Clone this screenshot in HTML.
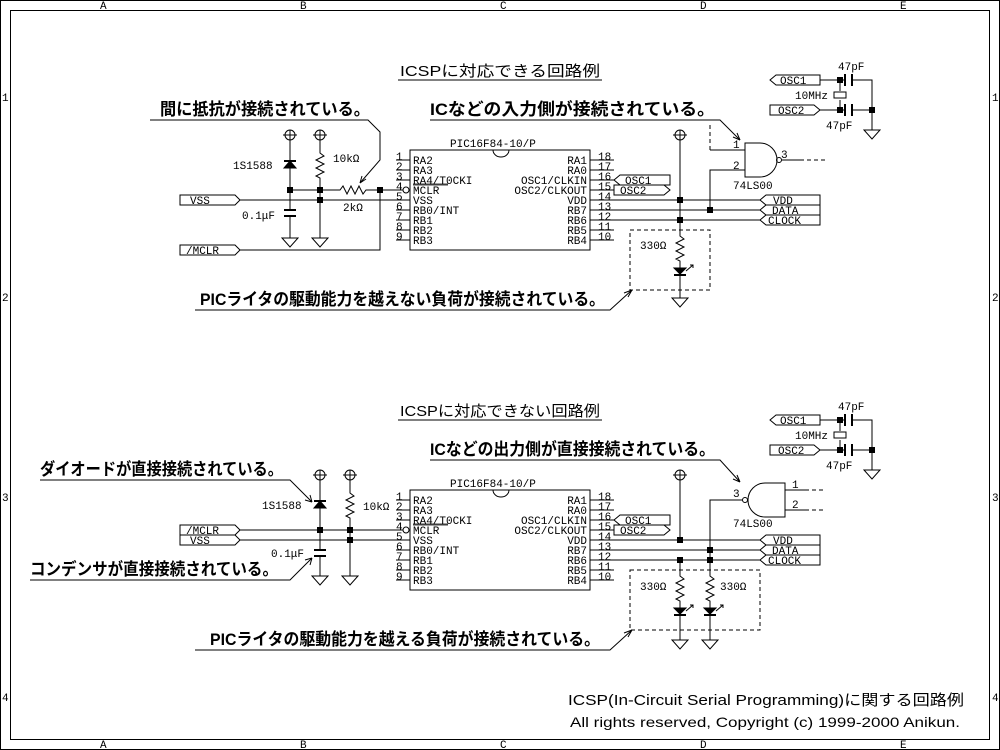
<!DOCTYPE html>
<html><head><meta charset="utf-8"><style>
body{margin:0;background:#fff}
svg{display:block}
.m{font-family:"Liberation Mono","DejaVu Sans Mono",monospace;font-size:11px;fill:#000}
.j{font-family:"Liberation Sans","Noto Sans CJK JP",sans-serif;font-size:17px;font-weight:bold;fill:#000}
.t{font-family:"Liberation Sans","Noto Sans CJK JP",sans-serif;font-size:15px;fill:#000}
</style></head><body>
<svg width="1000" height="750" viewBox="0 0 1000 750" xmlns="http://www.w3.org/2000/svg" fill="none" stroke="#000" stroke-width="1">
<defs>
<g id="pwr"><circle cx="0" cy="0" r="5"/><line x1="-7" y1="0" x2="7" y2="0"/><line x1="0" y1="-5" x2="0" y2="5"/></g>
<g id="gnd"><line x1="0" y1="0" x2="0" y2="8"/><path d="M-8 8 H8 L0 17 Z"/></g>
<g id="resv"><path d="M0 0 L0 3 L4 6 L-4 10 L4 14 L-4 18 L4 22 L-4 26 L0 28 L0 30"/></g>
<g id="dot"><rect x="-3" y="-3" width="6" height="6" fill="#000" stroke="none"/></g>
<g id="chip">
<rect x="410" y="150" width="180" height="100"/>
<path d="M493 150 a8 7 0 0 0 16 0"/>
<path d="M396 160H410M396 170H410M396 180H410M396 200H410M396 210H410M396 220H410M396 230H410M396 240H410"/>
<path d="M396 190H403"/><circle cx="406" cy="190" r="3"/>
<path d="M590 160H614M590 170H614M590 180H614M590 190H614M590 200H614M590 210H614M590 220H614M590 230H614M590 240H614"/>
<path d="M413 184H448M413 185H448" stroke-width="0.8"/>
<path d="M614 180L620 175H670V185H620Z"/>
<path d="M614 185V195H664L670 190L664 185Z"/>
</g>
<g id="osc">
<path d="M770 80L776 75H820V85H776Z"/>
<path d="M770 105V115H814L820 110L814 105Z"/>
<path d="M820 80H845M852 80H872V130M820 110H845M852 110H872"/>
<path d="M845 74V86M852 74V86M845 104V116M852 104V116" stroke-width="2"/>
<path d="M840 80V91M840 100V110"/><rect x="834" y="92" width="12" height="6"/>
<use href="#dot" x="840" y="80"/><use href="#dot" x="840" y="110"/><use href="#dot" x="872" y="110"/>
<use href="#gnd" x="872" y="122"/>
</g>
<g id="led"><path d="M-6 0H6L0 6Z" fill="#000"/><path d="M-6 7H6" stroke-width="2"/><path d="M6 3L13 -3M10 -3H13V0"/></g>
</defs>

<rect x="0.5" y="0.5" width="999" height="749"/>
<rect x="10.5" y="10.5" width="979" height="729"/>
<g class="m" stroke="none" font-size="10">
<text x="100" y="9">A</text><text x="300" y="9">B</text><text x="500" y="9">C</text><text x="700" y="9">D</text><text x="900" y="9">E</text>
<text x="100" y="748">A</text><text x="300" y="748">B</text><text x="500" y="748">C</text><text x="700" y="748">D</text><text x="900" y="748">E</text>
<text x="2" y="101">1</text><text x="2" y="301">2</text><text x="2" y="501">3</text><text x="2" y="701">4</text>
<text x="992" y="101">1</text><text x="992" y="301">2</text><text x="992" y="501">3</text><text x="992" y="701">4</text>
</g>

<use href="#chip"/><use href="#chip" y="340"/>
<use href="#osc"/><use href="#osc" y="340"/>

<g class="m" stroke="none">
<text x="450" y="147">PIC16F84-10/P</text>
<text x="413" y="164">RA2</text><text x="413" y="174">RA3</text><text x="413" y="184">RA4/T0CKI</text><text x="413" y="194">MCLR</text><text x="413" y="204">VSS</text><text x="413" y="214">RB0/INT</text><text x="413" y="224">RB1</text><text x="413" y="234">RB2</text><text x="413" y="244">RB3</text>
<g text-anchor="end"><text x="587" y="164">RA1</text><text x="587" y="174">RA0</text><text x="587" y="184">OSC1/CLKIN</text><text x="587" y="194">OSC2/CLKOUT</text><text x="587" y="204">VDD</text><text x="587" y="214">RB7</text><text x="587" y="224">RB6</text><text x="587" y="234">RB5</text><text x="587" y="244">RB4</text></g>
<text x="396" y="160">1</text><text x="396" y="170">2</text><text x="396" y="180">3</text><text x="396" y="190">4</text><text x="396" y="200">5</text><text x="396" y="210">6</text><text x="396" y="220">7</text><text x="396" y="230">8</text><text x="396" y="240">9</text>
<text x="598" y="160">18</text><text x="598" y="170">17</text><text x="598" y="180">16</text><text x="598" y="190">15</text><text x="598" y="200">14</text><text x="598" y="210">13</text><text x="598" y="220">12</text><text x="598" y="230">11</text><text x="598" y="240">10</text>
<text x="625" y="184">OSC1</text><text x="620" y="194">OSC2</text>
<g transform="translate(0,340)">
<text x="450" y="147">PIC16F84-10/P</text>
<text x="413" y="164">RA2</text><text x="413" y="174">RA3</text><text x="413" y="184">RA4/T0CKI</text><text x="413" y="194">MCLR</text><text x="413" y="204">VSS</text><text x="413" y="214">RB0/INT</text><text x="413" y="224">RB1</text><text x="413" y="234">RB2</text><text x="413" y="244">RB3</text>
<g text-anchor="end"><text x="587" y="164">RA1</text><text x="587" y="174">RA0</text><text x="587" y="184">OSC1/CLKIN</text><text x="587" y="194">OSC2/CLKOUT</text><text x="587" y="204">VDD</text><text x="587" y="214">RB7</text><text x="587" y="224">RB6</text><text x="587" y="234">RB5</text><text x="587" y="244">RB4</text></g>
<text x="396" y="160">1</text><text x="396" y="170">2</text><text x="396" y="180">3</text><text x="396" y="190">4</text><text x="396" y="200">5</text><text x="396" y="210">6</text><text x="396" y="220">7</text><text x="396" y="230">8</text><text x="396" y="240">9</text>
<text x="598" y="160">18</text><text x="598" y="170">17</text><text x="598" y="180">16</text><text x="598" y="190">15</text><text x="598" y="200">14</text><text x="598" y="210">13</text><text x="598" y="220">12</text><text x="598" y="230">11</text><text x="598" y="240">10</text>
<text x="625" y="184">OSC1</text><text x="620" y="194">OSC2</text>
</g>
<text x="780" y="84">OSC1</text><text x="778" y="114">OSC2</text><text x="838" y="70">47pF</text><text x="795" y="99">10MHz</text><text x="826" y="129">47pF</text>
<text x="780" y="424">OSC1</text><text x="778" y="454">OSC2</text><text x="838" y="410">47pF</text><text x="795" y="439">10MHz</text><text x="826" y="469">47pF</text>
</g>

<!-- TOP -->
<use href="#pwr" x="290" y="135"/><use href="#pwr" x="320" y="135"/>
<path d="M290 140V160M290 168V210M290 216V230"/>
<path d="M284 161H296" stroke-width="2"/><path d="M284 168H296L290 161Z" fill="#000"/>
<path d="M284 210H296M284 216H296" stroke-width="2"/>
<use href="#gnd" x="290" y="230"/><use href="#gnd" x="320" y="230"/>
<path d="M320 140V150M320 180V230"/><use href="#resv" x="320" y="150"/>
<path d="M290 190H340L343 186L347 194L351 186L355 194L359 186L363 194L366 190H396"/>
<path d="M180 195H235L240 200L235 205H180Z"/><path d="M240 200H396"/>
<path d="M180 245H235L240 250L235 255H180Z"/><path d="M240 250H380V190"/>
<use href="#dot" x="290" y="190"/><use href="#dot" x="320" y="190"/><use href="#dot" x="320" y="200"/><use href="#dot" x="380" y="190"/>
<path d="M150 120H368L380 132V160L360 183"/><path d="M360 183L362 176M360 183L366 179"/>
<use href="#pwr" x="680" y="135"/>
<path d="M680 140V235M614 200H760M614 210H760M614 220H760"/>
<path d="M760 200L766 195H820V205H766Z"/><path d="M760 210L766 205H820V215H766Z"/><path d="M760 220L766 215H820V225H766Z"/>
<use href="#dot" x="680" y="200"/><use href="#dot" x="710" y="210"/><use href="#dot" x="680" y="220"/>
<path d="M710 210V170H745M710 150H745"/>
<path d="M710 125V150" stroke-dasharray="4,3"/>
<path d="M745 143V177H760A17 17 0 0 0 760 143Z"/><circle cx="779" cy="160" r="2.5"/>
<path d="M782 160H800"/><path d="M800 160H825" stroke-dasharray="4,3"/>
<path d="M430 120H720L740 140"/><path d="M740 140L733 137M740 140L737 133"/>
<use href="#resv" x="680" y="233"/>
<path d="M680 263V290"/><use href="#led" x="680" y="268"/>
<use href="#gnd" x="680" y="290"/>
<rect x="630" y="230" width="80" height="60" stroke-dasharray="4,3"/>
<path d="M195 310H610L632 290M632 290L624 293M632 290L628 297"/>
<path d="M398 80H602"/>

<!-- BOTTOM -->
<use href="#pwr" x="320" y="475"/><use href="#pwr" x="350" y="475"/>
<path d="M320 480V500M320 508V550M320 556V570"/>
<path d="M314 501H326" stroke-width="2"/><path d="M314 508H326L320 501Z" fill="#000"/>
<path d="M314 550H326M314 556H326" stroke-width="2"/>
<use href="#gnd" x="320" y="568"/><use href="#gnd" x="350" y="568"/>
<path d="M350 480V490M350 520V568"/><use href="#resv" x="350" y="490"/>
<path d="M180 525H235L240 530L235 535H180Z"/><path d="M240 530H396"/>
<path d="M180 535H235L240 540L235 545H180Z"/><path d="M240 540H396"/>
<use href="#dot" x="320" y="530"/><use href="#dot" x="350" y="530"/><use href="#dot" x="350" y="540"/>
<path d="M40 480H290L312 502M312 502L305 500M312 502L310 495"/>
<path d="M30 580H290L312 558M312 558L305 560M312 558L310 565"/>
<use href="#pwr" x="680" y="475"/>
<path d="M680 480V540M614 540H760M614 550H760M614 560H760"/>
<path d="M760 540L766 535H820V545H766Z"/><path d="M760 550L766 545H820V555H766Z"/><path d="M760 560L766 555H820V565H766Z"/>
<use href="#dot" x="680" y="540"/><use href="#dot" x="710" y="550"/><use href="#dot" x="680" y="560"/><use href="#dot" x="710" y="560"/>
<path d="M710 560V500H742"/><circle cx="745" cy="500" r="2.5"/>
<path d="M785 483V517H765A17 17 0 0 1 765 483Z"/>
<path d="M785 490H805M785 510H805"/><path d="M805 490H825M805 510H825" stroke-dasharray="4,3"/>
<path d="M430 460H720L740 482M740 482L733 479M740 482L737 475"/>
<path d="M680 560V575M710 560V575"/><use href="#resv" x="680" y="573"/><use href="#resv" x="710" y="573"/>
<path d="M680 603V632M710 603V632"/><use href="#led" x="680" y="608"/><use href="#led" x="710" y="608"/>
<use href="#gnd" x="680" y="632"/><use href="#gnd" x="710" y="632"/>
<rect x="630" y="570" width="130" height="60" stroke-dasharray="4,3"/>
<path d="M195 650H610L632 630M632 630L624 633M632 630L628 637"/>
<path d="M398 420H602"/>

<g class="m" stroke="none">
<text x="190" y="204">VSS</text><text x="186" y="254">/MCLR</text>
<text x="233" y="169">1S1588</text><text x="333" y="162">10kΩ</text><text x="343" y="211">2kΩ</text><text x="242" y="219">0.1μF</text>
<text x="773" y="204">VDD</text><text x="772" y="214">DATA</text><text x="768" y="224">CLOCK</text>
<text x="733" y="148">1</text><text x="733" y="169">2</text><text x="781" y="158">3</text><text x="733" y="189">74LS00</text>
<text x="640" y="249">330Ω</text>
<text x="186" y="534">/MCLR</text><text x="190" y="544">VSS</text>
<text x="262" y="509">1S1588</text><text x="363" y="510">10kΩ</text><text x="271" y="557">0.1μF</text>
<text x="773" y="544">VDD</text><text x="772" y="554">DATA</text><text x="768" y="564">CLOCK</text>
<text x="792" y="488">1</text><text x="792" y="508">2</text><text x="733" y="497">3</text><text x="733" y="527">74LS00</text>
<text x="640" y="590">330Ω</text><text x="720" y="590">330Ω</text>
</g>
<g class="j" stroke="none">
<text x="400" y="76" font-size="15" font-weight="normal" textLength="200" lengthAdjust="spacingAndGlyphs">ICSPに対応できる回路例</text>
<text x="160" y="115" textLength="210" lengthAdjust="spacingAndGlyphs">間に抵抗が接続されている。</text>
<text x="430" y="115" textLength="285" lengthAdjust="spacingAndGlyphs">ICなどの入力側が接続されている。</text>
<text x="200" y="305" textLength="405" lengthAdjust="spacingAndGlyphs">PICライタの駆動能力を越えない負荷が接続されている。</text>
<text x="400" y="416" font-size="15" font-weight="normal" textLength="200" lengthAdjust="spacingAndGlyphs">ICSPに対応できない回路例</text>
<text x="430" y="455" textLength="285" lengthAdjust="spacingAndGlyphs">ICなどの出力側が直接接続されている。</text>
<text x="40" y="475" textLength="243" lengthAdjust="spacingAndGlyphs">ダイオードが直接接続されている。</text>
<text x="30" y="575" textLength="248" lengthAdjust="spacingAndGlyphs">コンデンサが直接接続されている。</text>
<text x="210" y="645" textLength="390" lengthAdjust="spacingAndGlyphs">PICライタの駆動能力を越える負荷が接続されている。</text>
</g>
<g class="t" stroke="none">
<text x="568" y="705" textLength="396" lengthAdjust="spacingAndGlyphs">ICSP(In-Circuit Serial Programming)に関する回路例</text>
<text x="570" y="727" font-size="14" textLength="390" lengthAdjust="spacingAndGlyphs">All rights reserved, Copyright (c) 1999-2000 Anikun.</text>
</g>
</svg>
</body></html>
